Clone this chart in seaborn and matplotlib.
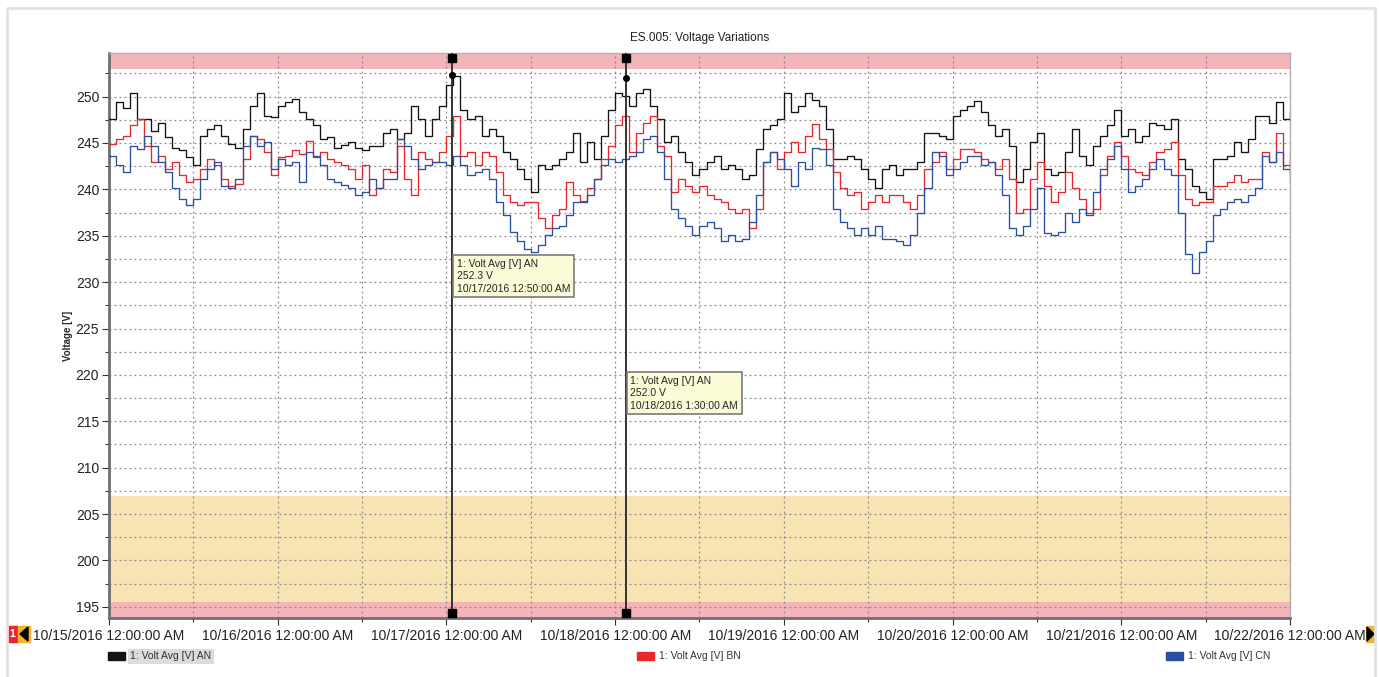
import numpy as np
import pandas as pd
import matplotlib
matplotlib.use("Agg")
import matplotlib.pyplot as plt
import matplotlib.dates as mdates
from matplotlib.ticker import MultipleLocator
from matplotlib.patches import Rectangle, Polygon
import seaborn as sns

# ---------------- data (hourly readings, 10/15/2016 00:00 -> 10/22/2016 00:00) ----------------
volt_an = [247.6, 249.4, 248.8, 250.4, 247.6, 247.6, 246.3, 247.2, 245.6, 244.5, 244.2, 243.5,
           242.6, 245.8, 246.5, 246.9, 245.8, 244.9, 244.5, 246.5, 249.0, 250.4, 247.9, 247.8,
           249.0, 249.4, 249.7, 248.3, 247.6, 246.9, 245.4, 245.6, 244.5, 244.8,
           245.1, 244.5, 244.2, 244.7, 244.7, 246.1, 246.5, 245.4, 246.1, 249.0, 247.6, 245.8,
           247.6, 249.0, 251.3, 252.2, 248.6, 247.6, 247.9, 245.8, 246.5, 245.8, 244.0, 243.3,
           242.2, 241.1, 239.7, 242.6, 242.2, 242.6, 243.3, 244.0, 246.1, 243.0,
           245.1, 243.3, 245.8, 248.6, 250.4, 250.1, 249.0, 250.4, 250.8, 249.0, 247.6, 245.1,
           245.8, 244.0, 243.0, 241.5, 242.2, 243.0, 243.6, 242.2, 242.6, 242.2, 241.1, 241.5,
           244.4, 246.5, 246.9, 247.6, 250.4, 248.3, 249.0, 250.4, 249.6,
           249.0, 246.5, 243.3, 243.3, 243.6, 243.3, 242.2, 241.1, 240.1, 242.2, 242.6, 241.5,
           242.2, 242.2, 243.0, 246.1, 246.1, 245.8, 245.4, 247.9, 248.6, 249.0, 249.5, 248.3,
           246.9, 245.8, 246.5, 244.7, 240.8, 242.2, 245.1, 246.1, 242.2,
           241.5, 241.9, 244.0, 246.5, 243.6, 242.6, 244.7, 245.8, 246.9, 248.6, 245.8, 246.5,
           245.1, 245.8, 247.2, 246.9, 246.5, 247.6, 243.3, 242.2, 240.4, 239.7, 239.0, 243.3,
           243.3, 243.6, 245.1, 244.0, 245.4, 247.9, 247.9, 247.2, 249.4, 247.6, 248.3]

volt_bn = [244.9, 245.4, 245.8, 246.9, 247.6, 244.7, 243.0, 243.6, 242.2, 243.0, 241.5, 240.8,
           241.1, 242.2, 243.3, 242.6, 241.1, 240.4, 240.6, 243.3, 245.8, 245.4, 244.0, 241.5,
           243.5, 243.6, 244.2, 243.8, 245.2, 243.5, 244.0, 243.3, 243.0, 242.6,
           242.2, 241.1, 242.6, 239.4, 240.1, 242.2, 241.9, 244.7, 241.1, 239.4, 244.0, 243.3,
           243.0, 244.0, 245.8, 247.9, 243.6, 244.0, 242.6, 244.0, 243.6, 241.9, 239.4, 238.6,
           238.3, 238.6, 238.6, 236.9, 235.8, 237.2, 237.9, 240.8, 239.4, 238.8,
           240.1, 241.1, 243.3, 244.7, 246.9, 247.9, 244.0, 246.1, 247.2, 247.9, 244.7, 243.6,
           239.7, 241.1, 240.4, 239.7, 240.4, 239.4, 239.0, 238.6, 237.9, 237.5, 237.9, 235.8,
           237.9, 243.0, 244.0, 242.2, 244.0, 245.1, 244.0, 245.8, 247.0,
           245.4, 244.4, 241.9, 240.1, 239.4, 239.7, 237.9, 238.6, 239.4, 238.6, 239.4, 239.4,
           238.6, 237.9, 239.4, 242.2, 243.0, 244.0, 242.2, 243.3, 244.4, 244.4, 244.0, 243.3,
           243.0, 242.2, 243.3, 241.1, 237.5, 237.9, 241.1, 243.0, 240.4,
           238.6, 239.7, 241.9, 240.1, 239.0, 237.5, 237.9, 241.5, 243.6, 245.1, 243.6, 242.2,
           241.9, 241.5, 243.0, 244.0, 244.4, 245.1, 241.5, 239.0, 238.3, 238.6, 238.6, 240.4,
           240.4, 240.8, 241.5, 240.8, 241.1, 241.1, 244.0, 243.0, 246.1, 242.6, 244.0]

volt_cn = [243.6, 242.6, 241.9, 244.7, 244.4, 245.8, 244.7, 243.0, 241.9, 240.1, 239.0, 238.3,
           239.0, 241.1, 242.2, 243.0, 240.4, 240.1, 241.1, 244.7, 245.8, 244.7, 245.1, 242.2,
           243.3, 242.6, 243.0, 240.8, 244.0, 243.6, 242.6, 241.1, 240.8, 240.5,
           240.1, 239.4, 239.7, 241.1, 240.1, 241.1, 241.1, 245.4, 244.7, 243.3, 242.2, 242.6,
           243.0, 243.0, 242.6, 243.6, 242.6, 241.5, 241.9, 242.2, 241.1, 238.6, 237.2, 235.4,
           234.4, 233.6, 233.3, 234.0, 235.1, 235.8, 236.1, 237.2, 238.6, 238.6,
           239.4, 241.1, 242.6, 243.3, 243.0, 243.3, 243.6, 244.0, 245.4, 245.8, 244.0, 241.1,
           237.9, 236.9, 236.1, 235.1, 236.1, 236.5, 235.8, 234.4, 235.1, 234.4, 234.7, 236.5,
           239.4, 243.0, 244.0, 243.3, 242.2, 240.4, 243.0, 242.2, 244.5,
           244.4, 242.6, 237.9, 236.5, 235.8, 235.1, 235.8, 235.1, 236.1, 234.7, 234.7, 234.4,
           234.0, 235.1, 237.5, 240.1, 244.0, 243.6, 241.5, 242.2, 243.0, 243.6, 243.6, 242.6,
           243.0, 241.5, 239.4, 235.8, 235.1, 236.1, 237.9, 240.1, 235.3,
           235.1, 235.4, 237.5, 236.5, 237.9, 237.2, 239.7, 242.2, 243.3, 244.7, 242.2, 239.7,
           240.4, 241.1, 242.2, 243.3, 242.2, 241.5, 237.5, 233.0, 231.0, 233.3, 234.4, 237.2,
           237.9, 238.6, 239.0, 238.6, 239.4, 240.1, 243.6, 243.0, 244.0, 242.2, 240.8]

series_names = ["1: Volt Avg [V] AN", "1: Volt Avg [V] BN", "1: Volt Avg [V] CN"]
line_colors = ["#141414", "#e8262b", "#2c4fa6"]

day_labels = ["10/15/2016 12:00:00 AM", "10/16/2016 12:00:00 AM", "10/17/2016 12:00:00 AM",
              "10/18/2016 12:00:00 AM", "10/19/2016 12:00:00 AM", "10/20/2016 12:00:00 AM",
              "10/21/2016 12:00:00 AM", "10/22/2016 12:00:00 AM"]

cursor_times = ["2016-10-17 00:50", "2016-10-18 01:30"]
cursor_values = [252.3, 252.0]
cursor_texts = ["1: Volt Avg [V] AN\n252.3 V\n10/17/2016 12:50:00 AM",
                "1: Volt Avg [V] AN\n252.0 V\n10/18/2016 1:30:00 AM"]

# ---------------- build frame ----------------
times = pd.date_range("2016-10-15 00:00", periods=len(volt_an), freq="h")
df = pd.concat([
    pd.DataFrame({"time": times, "voltage": v, "series": n})
    for v, n in zip([volt_an, volt_bn, volt_cn], series_names)
], ignore_index=True)

sns.set_theme(style="white")
plt.rcParams["font.family"] = ["Liberation Sans", "DejaVu Sans"]

fig = plt.figure(figsize=(13.79, 6.77), dpi=100)
ax = fig.add_axes([0.079, 0.0872, 0.8565, 0.8345])

t0 = pd.Timestamp("2016-10-15 00:00")
t1 = pd.Timestamp("2016-10-22 00:00")
ymin, ymax = 193.8, 254.7

# limit bands
ax.axhspan(253, 260, color="#f5b4b7", zorder=0.2, lw=0)
ax.axhspan(195.5, 207, color="#f8e3b3", zorder=0.2, lw=0)
ax.axhspan(180, 195.5, color="#f5b4b7", zorder=0.2, lw=0)

sns.lineplot(data=df, x="time", y="voltage", hue="series", hue_order=series_names,
             palette=line_colors, drawstyle="steps-post", linewidth=0.95,
             legend=False, ax=ax, zorder=3)

ax.set_xlim(t0, t1)
ax.set_ylim(ymin, ymax)

# ticks & grid
ax.yaxis.set_major_locator(MultipleLocator(5))
ax.yaxis.set_minor_locator(MultipleLocator(2.5))
day_ticks = pd.date_range(t0, t1, freq="D")
half_ticks = pd.date_range(t0, t1, freq="12h")
ax.set_xticks(day_ticks)
ax.set_xticklabels(day_labels)
ax.set_xticks(half_ticks, minor=True)
ax.tick_params(axis="both", which="both", direction="out", color="#333333",
               bottom=True, left=True, width=0.8)
ax.tick_params(axis="both", which="major", length=5, labelsize=10, labelcolor="#222222")
ax.tick_params(axis="both", which="minor", length=3)
ax.tick_params(axis="y", pad=2)
ax.tick_params(axis="x", pad=3)
ax.set_axisbelow(True)
ax.grid(True, which="both", linestyle=(0, (1.5, 2.5)), color="#8a8a8a", linewidth=0.9, zorder=0.5)

for side in ["left", "bottom"]:
    ax.spines[side].set_color("#6f6f6f")
    ax.spines[side].set_linewidth(2)
for side in ["top", "right"]:
    ax.spines[side].set_color("#b0b0b0")
    ax.spines[side].set_linewidth(1)

ax.set_xlabel("")
ax.set_ylabel("Voltage [V]", fontsize=7, fontweight="bold", labelpad=2)
ax.set_title("ES.005: Voltage Variations", fontsize=8.5, pad=9, color="#222222")

# cursors
for ct, cv, txt in zip(cursor_times, cursor_values, cursor_texts):
    ctime = pd.Timestamp(ct)
    ax.axvline(ctime, color="#333333", linewidth=1.4, zorder=5)
    ax.plot([ctime], [cv], marker="o", markersize=4, color="black", zorder=6)
    ax.plot([ctime, ctime], [ymax - 0.5, ymin + 0.5], linestyle="none", marker="s",
            markersize=6, color="black", zorder=6, clip_on=False)
    ax.annotate(txt, xy=(ctime, cv), xytext=(ctime + pd.Timedelta(minutes=40), cv - 19.8 if cv > 252.1 else cv - 32.1),
                textcoords="data", fontsize=7.5, va="top", ha="left", linespacing=1.3, zorder=7,
                bbox=dict(boxstyle="square,pad=0.35", fc="#fbfbd8", ec="#7a7a7a", lw=1.2))

# legend (custom, below the axis)
leg_x = [0.0785, 0.462, 0.8455]
for x, name, col, i in zip(leg_x, series_names, line_colors, range(3)):
    fig.patches.append(Rectangle((x, 0.0255), 0.0125, 0.0115, transform=fig.transFigure,
                                 color=col, zorder=5))
    kw = {}
    if i == 0:
        kw["bbox"] = dict(boxstyle="square,pad=0.25", fc="#dcdcdc", ec="none")
    fig.text(x + 0.016, 0.0305, name, fontsize=7.5, va="center", ha="left", color="#333333", **kw)

# navigation icons
fig.patches.append(Rectangle((7 / 1379, 1 - 642 / 677), 11 / 1379, 16 / 677,
                             transform=fig.transFigure, color="#e8262b"))
fig.text(12.5 / 1379, 1 - 634 / 677, "1", fontsize=7.5, color="white", ha="center", va="center",
         fontweight="bold")
fig.patches.append(Rectangle((18 / 1379, 1 - 642 / 677), 12 / 1379, 16 / 677,
                             transform=fig.transFigure, color="#f5b22a"))
fig.patches.append(Polygon([[20 / 1379, 1 - 634 / 677], [28 / 1379, 1 - 627 / 677],
                            [28 / 1379, 1 - 641 / 677]], closed=True,
                           transform=fig.transFigure, color="black"))
fig.patches.append(Rectangle((1366 / 1379, 1 - 642 / 677), 9 / 1379, 16 / 677,
                             transform=fig.transFigure, color="#f5b22a"))
fig.patches.append(Polygon([[1374 / 1379, 1 - 634 / 677], [1367 / 1379, 1 - 627 / 677],
                            [1367 / 1379, 1 - 641 / 677]], closed=True,
                           transform=fig.transFigure, color="black"))

# outer frame
fig.add_artist(plt.Line2D([7 / 1379, 7 / 1379, 1375 / 1379, 1375 / 1379],
                          [0, 1 - 8 / 677, 1 - 8 / 677, 0], transform=fig.transFigure,
                          color="#e2e2e2", linewidth=2))

fig.savefig("out.png", dpi=100, facecolor="white")
